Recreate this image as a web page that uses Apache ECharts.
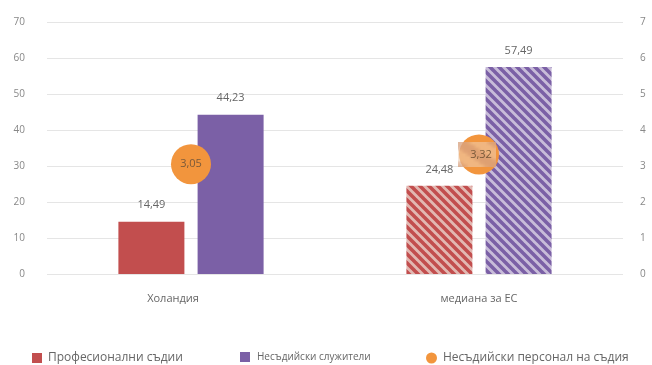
<!DOCTYPE html>
<html>
<head>
<meta charset="utf-8">
<script src="https://cdn.jsdelivr.net/npm/echarts@6/dist/echarts.min.js"></script>
<style>
  html, body { margin: 0; padding: 0; background: #fff; }
  #chart { width: 652px; height: 365px; }
</style>
</head>
<body>
<div id="chart"></div>
<script>
// Categories and values
const categories = ['Холандия', 'медиана за ЕС'];
const judges = [14.49, 24.48];           // Професионални съдии
const nonJudgeStaff = [44.23, 57.49];    // Несъдийски служители
const staffPerJudge = [3.05, 3.32];      // Несъдийски персонал на съдия (right axis)
const leftTicks = [0, 10, 20, 30, 40, 50, 60, 70];
const rightTicks = [0, 1, 2, 3, 4, 5, 6, 7];
const seriesNames = ['Професионални съдии', 'Несъдийски служители', 'Несъдийски персонал на съдия'];

const RED = '#c24e4e';
const PURPLE = '#7b60a6';
const ORANGE = '#f2953d';

// Diagonal hatch pattern ("\\\" direction) for the EU median bars
function hatch(fg, bg, size, lw) {
  const c = document.createElement('canvas');
  c.width = size; c.height = size;
  const g = c.getContext('2d');
  g.fillStyle = bg;
  g.fillRect(0, 0, size, size);
  g.strokeStyle = fg;
  g.lineWidth = lw;
  g.beginPath();
  for (let k = -1; k <= 1; k++) {
    g.moveTo(k * size - 1, -1);
    g.lineTo(k * size + size + 1, size + 1);
  }
  g.stroke();
  return { image: c, repeat: 'repeat' };
}

const redHatch = hatch(RED, '#e2b8b2', 9, 3.6);
const purpleHatch = hatch(PURPLE, '#c8bcd9', 9, 3.6);
const orangeHatch = hatch('rgba(205,140,100,0.5)', 'rgba(238,210,185,0.55)', 9, 3.2);

const chart = echarts.init(document.getElementById('chart'), null, { renderer: 'canvas' });

const labelStyle = { color: '#666', fontSize: 11, fontFamily: 'Open Sans' };

chart.setOption({
  animation: false,
  textStyle: { fontFamily: 'Open Sans' },
  grid: { left: 47, right: 29, top: 22, bottom: 91, containLabel: false },
  legend: [
    {
      data: [{ name: seriesNames[0], icon: 'rect' }],
      left: 27, top: 347, itemWidth: 10, itemHeight: 10,
      textStyle: { color: '#666', fontSize: 12, padding: [0, 0, 0, 1] }
    },
    {
      data: [{ name: seriesNames[1], icon: 'rect' }],
      left: 235, top: 347, itemWidth: 10, itemHeight: 10,
      textStyle: { color: '#666', fontSize: 10, padding: [0, 0, 0, 2] }
    },
    {
      data: [{ name: seriesNames[2], icon: 'circle' }],
      left: 421, top: 347, itemWidth: 11, itemHeight: 11,
      textStyle: { color: '#666', fontSize: 12, padding: [0, 0, 0, 1] }
    }
  ],
  xAxis: {
    type: 'category',
    data: categories,
    axisLine: { show: false },
    axisTick: { show: false },
    axisLabel: {
      color: '#666', fontSize: 11, margin: 19,
      formatter: function (v, i) { return i === 0 ? '{a|' + v + '}' : v; },
      rich: { a: { color: '#666', fontSize: 11, padding: [0, 36, 0, 0] } }
    }
  },
  yAxis: [
    {
      type: 'value', min: 0, max: 70, interval: 10,
      axisLine: { show: false }, axisTick: { show: false },
      axisLabel: {
        color: '#888', fontSize: 10, margin: 22,
        formatter: function (v) { return leftTicks.includes(v) ? String(v) : ''; }
      },
      splitLine: { lineStyle: { color: '#e5e5e5', width: 1 } }
    },
    {
      type: 'value', min: 0, max: 7, interval: 1,
      axisLine: { show: false }, axisTick: { show: false },
      axisLabel: {
        color: '#888', fontSize: 10, margin: 17,
        formatter: function (v) { return rightTicks.includes(v) ? String(v) : ''; }
      },
      splitLine: { show: false }
    }
  ],
  series: [
    {
      name: seriesNames[0], type: 'bar', yAxisIndex: 0,
      barWidth: 66, barGap: '20%',
      itemStyle: { color: RED },
      label: {
        show: true, position: 'top', distance: 11, ...labelStyle,
        formatter: function (p) { return String(p.value).replace('.', ','); }
      },
      data: [judges[0], { value: judges[1], itemStyle: { color: redHatch } }]
    },
    {
      name: seriesNames[1], type: 'bar', yAxisIndex: 0,
      barWidth: 66, barGap: '20%',
      itemStyle: { color: PURPLE },
      label: {
        show: true, position: 'top', distance: 11, ...labelStyle,
        formatter: function (p) { return String(p.value).replace('.', ','); }
      },
      data: [nonJudgeStaff[0], { value: nonJudgeStaff[1], itemStyle: { color: purpleHatch } }]
    },
    {
      name: seriesNames[2], type: 'scatter', yAxisIndex: 1,
      symbol: 'circle', symbolSize: 40, z: 5,
      itemStyle: { color: ORANGE, opacity: 1 },
      label: {
        show: true, position: 'inside', color: '#7a5a3a', fontSize: 11,
        formatter: function (p) { return String(p.value).replace('.', ','); }
      },
      data: [
        staffPerJudge[0],
        {
          value: staffPerJudge[1],
          label: { backgroundColor: orangeHatch, padding: [8, 4, 6, 12], offset: [-2, 0] }
        }
      ]
    }
  ]
});
</script>
</body>
</html>
